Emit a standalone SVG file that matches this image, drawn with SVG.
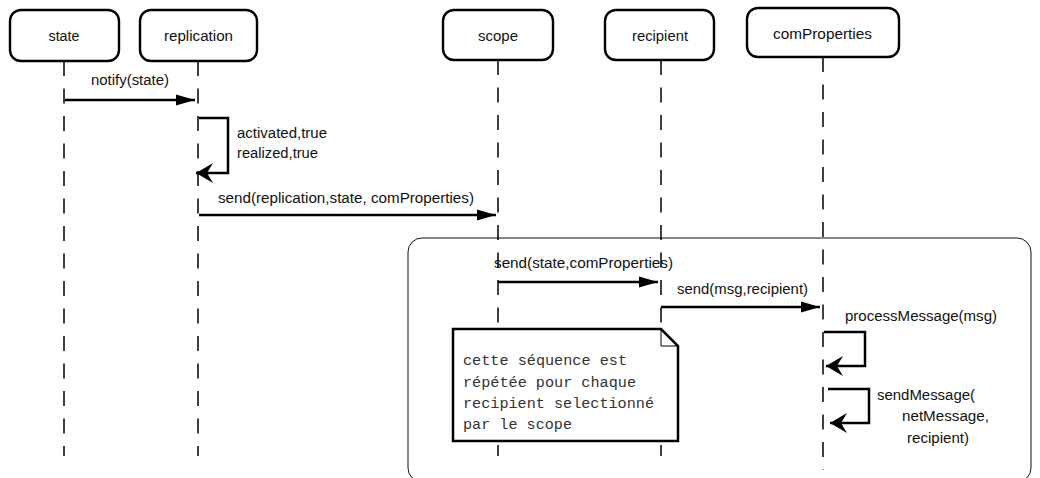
<svg xmlns="http://www.w3.org/2000/svg" width="1040" height="478" viewBox="0 0 1040 478">
<style>
.box{fill:#fff;stroke:#000;stroke-width:2.4}
.lbl{font-family:"Liberation Sans",Arial,sans-serif;font-size:14px;fill:#111}
.mid{text-anchor:middle}
.life{stroke:#000;stroke-width:1.5;stroke-dasharray:15 12.5;fill:none}
.msg{stroke:#000;stroke-width:2.5;fill:none}
.frame{fill:none;stroke:#111;stroke-width:1}
.note{fill:#fff;stroke:#000;stroke-width:2.5}
.mono{font-family:"Liberation Mono","Courier New",monospace;font-size:14px;fill:#333}
</style>
<defs>
<marker id="tri" markerUnits="userSpaceOnUse" markerWidth="20" markerHeight="12" viewBox="0 0 20 12" refX="19" refY="6" orient="auto">
<path d="M0,0.5 L19,6 L0,11.5 z" fill="#000"/>
</marker>
<marker id="stealth" markerUnits="userSpaceOnUse" markerWidth="22" markerHeight="22" viewBox="0 0 22 22" refX="20" refY="11" orient="auto">
<path d="M20,11 L3,1 L9,11 L3,21 z" fill="#000"/>
</marker>
</defs>

<rect class="frame" x="408" y="238" width="623" height="244" rx="14"/>

<g id="lifelines">
<line class="life" x1="64" y1="61" x2="64" y2="456"/>
<line class="life" x1="198" y1="61" x2="198" y2="456"/>
<line class="life" x1="498" y1="60" x2="498" y2="456"/>
<line class="life" x1="661" y1="60" x2="661" y2="456"/>
<line class="life" x1="823" y1="57" x2="823" y2="470"/>
</g>

<g id="node-state">
<rect class="box" x="10" y="10" width="109" height="51" rx="11"/>
<text class="lbl mid" x="64" y="41" textLength="31" lengthAdjust="spacingAndGlyphs">state</text>
</g>
<g id="node-replication">
<rect class="box" x="140" y="10" width="117" height="51" rx="11"/>
<text class="lbl mid" x="198.5" y="41" textLength="69" lengthAdjust="spacingAndGlyphs">replication</text>
</g>
<g id="node-scope">
<rect class="box" x="443" y="10" width="110" height="50" rx="11"/>
<text class="lbl mid" x="498" y="41" textLength="40" lengthAdjust="spacingAndGlyphs">scope</text>
</g>
<g id="node-recipient">
<rect class="box" x="605" y="10" width="109" height="50" rx="11"/>
<text class="lbl mid" x="660" y="41" textLength="56" lengthAdjust="spacingAndGlyphs">recipient</text>
</g>
<g id="node-comProperties">
<rect class="box" x="747" y="8" width="152" height="49" rx="11"/>
<text class="lbl mid" x="822.5" y="39" textLength="99" lengthAdjust="spacingAndGlyphs">comProperties</text>
</g>

<g id="note">
<path class="note" d="M453,329 L661,329 L678,346 L678,441 L453,441 Z"/>
<path d="M661,329 L661,346 L678,346" fill="none" stroke="#000" stroke-width="1"/>
<text class="mono" x="463" y="365" textLength="164" lengthAdjust="spacingAndGlyphs">cette séquence est</text>
<text class="mono" x="463" y="387" textLength="173" lengthAdjust="spacingAndGlyphs">répétée pour chaque</text>
<text class="mono" x="463" y="408" textLength="191" lengthAdjust="spacingAndGlyphs">recipient selectionné</text>
<text class="mono" x="463" y="429" textLength="109" lengthAdjust="spacingAndGlyphs">par le scope</text>
</g>

<g id="connectors">
<line class="msg" x1="65" y1="100" x2="195" y2="100" marker-end="url(#tri)"/>
<text class="lbl" x="91" y="85" textLength="78" lengthAdjust="spacingAndGlyphs">notify(state)</text>

<path class="msg" d="M199,118 H228 V173 H196" marker-end="url(#stealth)"/>
<text class="lbl" x="237" y="138" textLength="90" lengthAdjust="spacingAndGlyphs">activated,true</text>
<text class="lbl" x="237" y="158" textLength="81" lengthAdjust="spacingAndGlyphs">realized,true</text>

<line class="msg" x1="199" y1="215" x2="496" y2="215" marker-end="url(#tri)"/>
<text class="lbl" x="218" y="203" textLength="256" lengthAdjust="spacingAndGlyphs">send(replication,state, comProperties)</text>

<line class="msg" x1="498" y1="282" x2="658" y2="282" marker-end="url(#tri)"/>
<text class="lbl" x="494" y="268" textLength="179" lengthAdjust="spacingAndGlyphs">send(state,comProperties)</text>

<line class="msg" x1="661" y1="307" x2="820" y2="307" marker-end="url(#tri)"/>
<text class="lbl" x="677" y="294" textLength="131" lengthAdjust="spacingAndGlyphs">send(msg,recipient)</text>

<path class="msg" d="M824,332 H865 V366 H826" marker-end="url(#stealth)"/>
<text class="lbl" x="845" y="321" textLength="152" lengthAdjust="spacingAndGlyphs">processMessage(msg)</text>

<path class="msg" d="M828,389 H869 V423 H830" marker-end="url(#stealth)"/>
<text class="lbl" x="877" y="400" textLength="98" lengthAdjust="spacingAndGlyphs">sendMessage(</text>
<text class="lbl" x="902" y="421" textLength="87" lengthAdjust="spacingAndGlyphs">netMessage,</text>
<text class="lbl" x="907" y="443" textLength="62" lengthAdjust="spacingAndGlyphs">recipient)</text>
</g>
</svg>
